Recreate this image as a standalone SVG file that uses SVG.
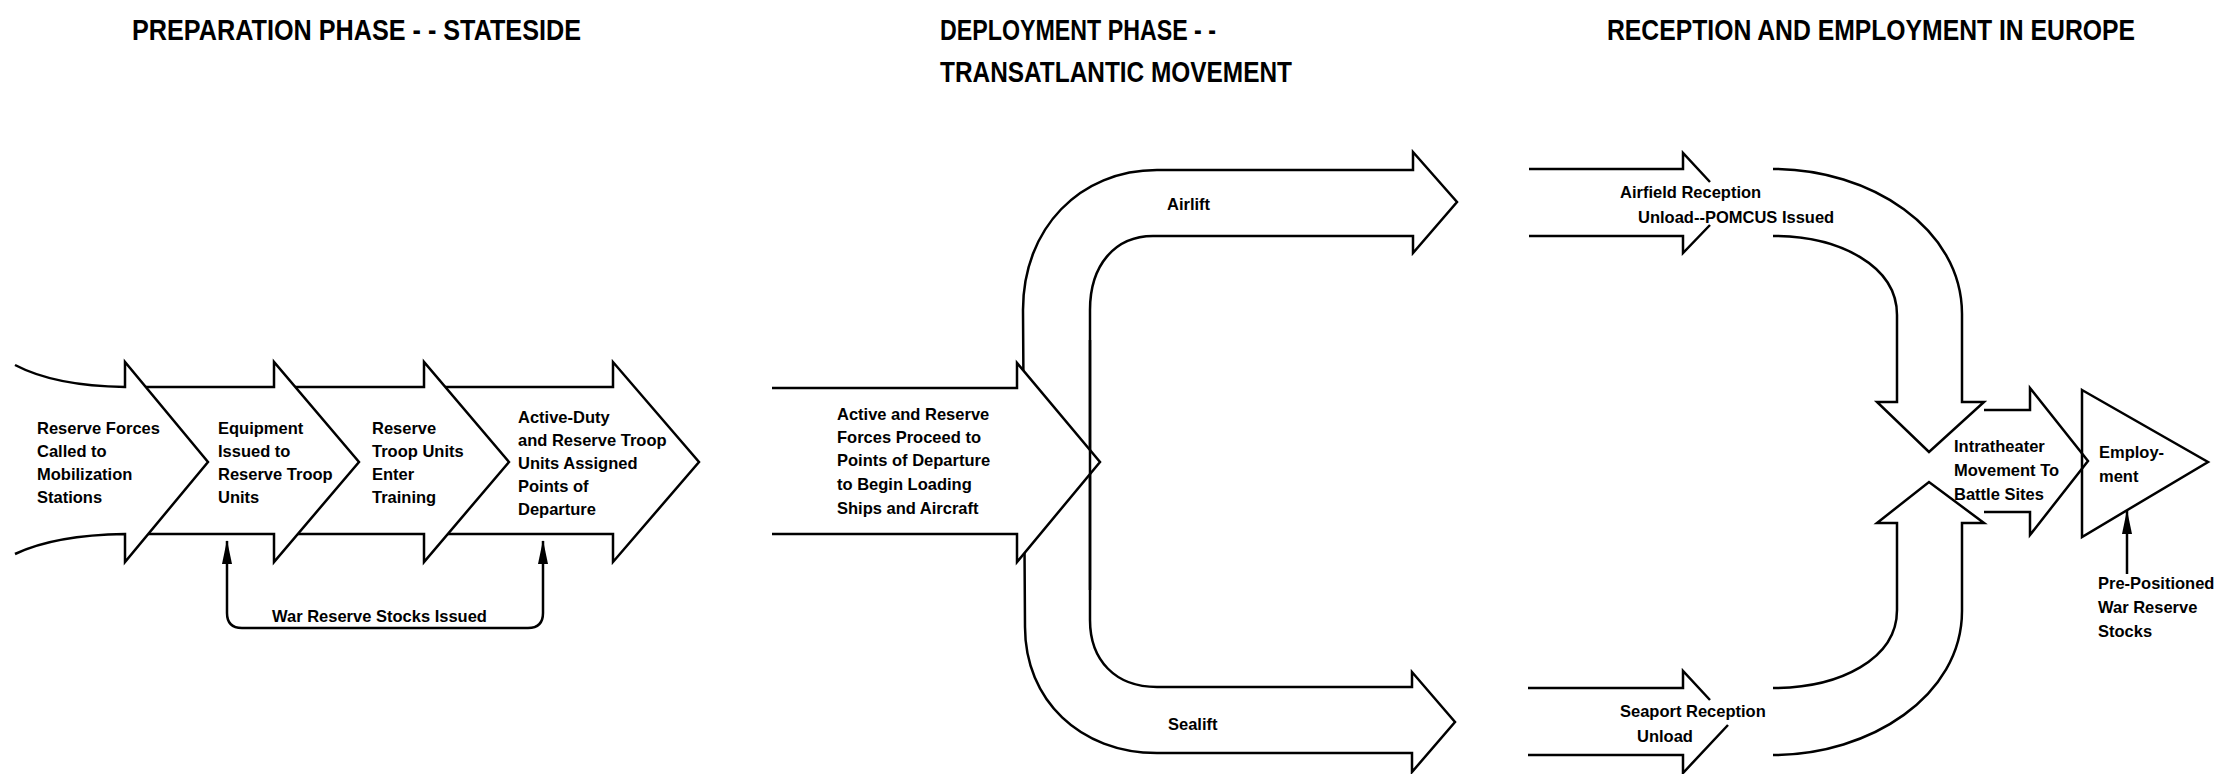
<svg xmlns="http://www.w3.org/2000/svg" width="2224" height="774" viewBox="0 0 2224 774">
<style>
.ln{fill:none;stroke:#000;stroke-width:2.5;stroke-linejoin:miter}
.sh{fill:#fff;stroke:#000;stroke-width:2.5;stroke-linejoin:miter}
.t{font-family:"Liberation Sans",Arial,sans-serif;font-weight:bold;font-size:16.5px;fill:#000}
.h{font-family:"Liberation Sans",Arial,sans-serif;font-weight:bold;font-size:24.5px;fill:#000}
</style>
<defs>
<marker id="ah" viewBox="0 0 24 10" refX="23" refY="5" markerWidth="24" markerHeight="10" markerUnits="userSpaceOnUse" orient="auto-start-reverse">
<path d="M0,0 L24,5 L0,10 Z" fill="#000"/>
</marker>
</defs>
<rect width="2224" height="774" fill="#fff"/>

<g id="titles">
<text class="h" transform="translate(132,40) scale(1,1.2)" x="0" y="0" textLength="449" lengthAdjust="spacingAndGlyphs">PREPARATION PHASE - - STATESIDE</text>
<text class="h" transform="translate(940,40) scale(1,1.2)" x="0" y="0" textLength="276" lengthAdjust="spacingAndGlyphs">DEPLOYMENT PHASE - -</text>
<text class="h" transform="translate(940,82) scale(1,1.2)" x="0" y="0" textLength="352" lengthAdjust="spacingAndGlyphs">TRANSATLANTIC MOVEMENT</text>
<text class="h" transform="translate(1607,40) scale(1,1.2)" x="0" y="0" textLength="528" lengthAdjust="spacingAndGlyphs">RECEPTION AND EMPLOYMENT IN EUROPE</text>
</g>

<g id="node-assigned">
<path class="sh" d="M424,387 H613 V362 L699,462 L613,562 V534 H424"/>
<text class="t"><tspan x="518" y="423">Active-Duty</tspan><tspan x="518" y="446">and Reserve Troop</tspan><tspan x="518" y="469">Units Assigned</tspan><tspan x="518" y="492">Points of</tspan><tspan x="518" y="515">Departure</tspan></text>
</g>
<g id="node-training">
<path class="sh" d="M274,387 H424 V362 L509,462 L424,562 V534 H274"/>
<text class="t"><tspan x="372" y="434">Reserve</tspan><tspan x="372" y="457">Troop Units</tspan><tspan x="372" y="480">Enter</tspan><tspan x="372" y="503">Training</tspan></text>
</g>
<g id="node-equipment">
<path class="sh" d="M125,387 H274 V362 L359,462 L274,562 V534 H125"/>
<text class="t"><tspan x="218" y="434">Equipment</tspan><tspan x="218" y="457">Issued to</tspan><tspan x="218" y="480">Reserve Troop</tspan><tspan x="218" y="503">Units</tspan></text>
</g>
<g id="node-called">
<path class="sh" d="M15,365 Q55,386 125,387 V362 L208,462 L125,562 V534 Q55,535 15,554"/>
<text class="t"><tspan x="37" y="434">Reserve Forces</tspan><tspan x="37" y="457">Called to</tspan><tspan x="37" y="480">Mobilization</tspan><tspan x="37" y="503">Stations</tspan></text>
</g>

<g id="node-lift">
<path class="sh" d="M1023,310 C1023,228 1080,170 1157,170 H1413 V152 L1457,202 L1413,253 V236 H1153 C1115,236 1090,265 1090,310 V620 C1090,660 1115,687 1157,687 H1412 V672 L1455,722 L1412,772 V753 H1157 C1080,753 1025,700 1025,627 Z"/>
<text class="t" x="1167" y="210">Airlift</text>
<text class="t" x="1168" y="730">Sealift</text>
</g>

<g id="node-proceed">
<path class="sh" d="M772,388 H1017 V363 L1100,462 L1017,562 V534 H772"/>
<path class="ln" d="M1090,340 V590"/>
<text class="t"><tspan x="837" y="420">Active and Reserve</tspan><tspan x="837" y="443">Forces Proceed to</tspan><tspan x="837" y="466">Points of Departure</tspan><tspan x="837" y="490">to Begin Loading</tspan><tspan x="837" y="514">Ships and Aircraft</tspan></text>
</g>

<g id="connectors">
<path class="ln" d="M1773,169 C1870,169 1962,228 1962,314 V402 H1984 L1929,452 L1877,402 H1897 V315 C1897,266 1840,236 1773,236"/>
<path class="ln" d="M1773,755 C1870,755 1962,696 1962,611 V523 H1984 L1929,482 L1877,523 H1897 V610 C1897,659 1840,688 1773,688"/>
<path class="ln" d="M227,541 V613 Q227,628 242,628 H528 Q543,628 543,613 V541" marker-start="url(#ah)" marker-end="url(#ah)"/>
<text class="t" x="272" y="622">War Reserve Stocks Issued</text>
<path class="ln" d="M2127,574 V511" marker-end="url(#ah)"/>
</g>

<g id="node-airfield">
<path class="ln" d="M1529,169 H1683 V153 L1710,182 M1710,225 L1683,253 V236 H1529"/>
<text class="t"><tspan x="1620" y="198">Airfield Reception</tspan><tspan x="1638" y="223">Unload--POMCUS Issued</tspan></text>
</g>

<g id="node-seaport">
<path class="ln" d="M1528,688 H1683 V671 L1710,700 M1728,725 L1683,773 V755 H1528"/>
<text class="t"><tspan x="1620" y="717">Seaport Reception</tspan><tspan x="1637" y="742">Unload</tspan></text>
</g>

<g id="node-intratheater">
<path class="ln" d="M1984,410 H2030 V388 L2088,461 L2030,535 V512 H1984"/>
<text class="t"><tspan x="1954" y="452">Intratheater</tspan><tspan x="1954" y="476">Movement To</tspan><tspan x="1954" y="500">Battle Sites</tspan></text>
</g>

<g id="node-employment">
<path class="ln" d="M2082,390 L2208,462 L2082,537 Z"/>
<text class="t"><tspan x="2099" y="458">Employ-</tspan><tspan x="2099" y="482">ment</tspan></text>
</g>

<g id="node-prepositioned">
<text class="t"><tspan x="2098" y="589">Pre-Positioned</tspan><tspan x="2098" y="613">War Reserve</tspan><tspan x="2098" y="637">Stocks</tspan></text>
</g>
</svg>
